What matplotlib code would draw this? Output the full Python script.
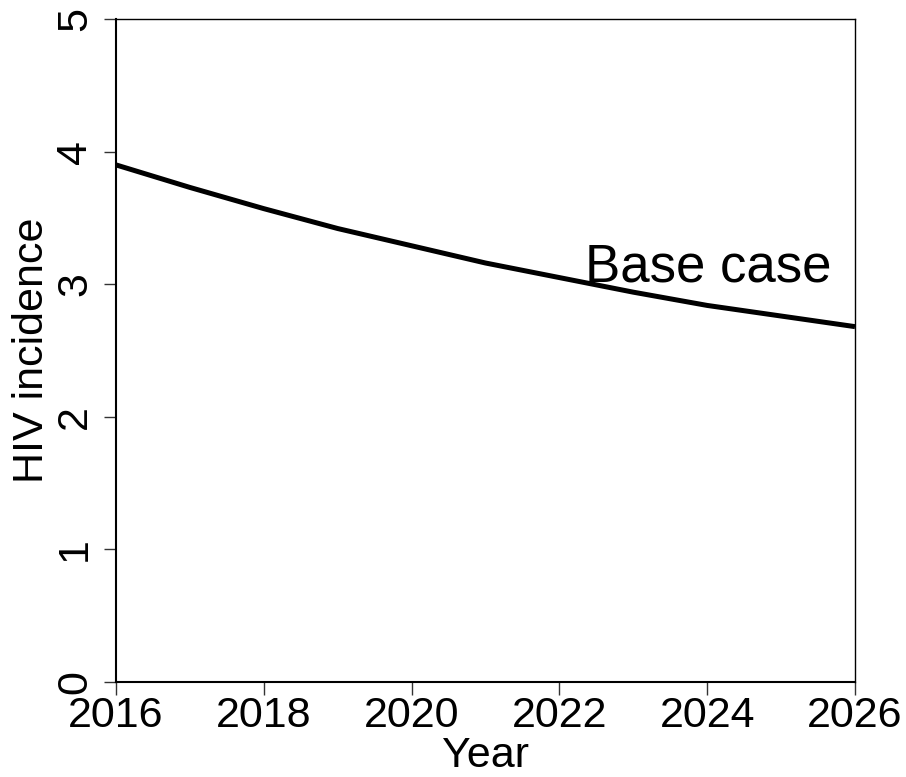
import numpy as np
import matplotlib
matplotlib.use('Agg')
import matplotlib.pyplot as plt

plt.rcParams.update({
    'font.family': ['Liberation Sans', 'DejaVu Sans'],
    'axes.linewidth': 1.2,
})

# Projected HIV incidence, base case scenario
years = [2016, 2017, 2018, 2019, 2020, 2021, 2022, 2023, 2024, 2025, 2026]
incidence = [3.90, 3.73, 3.57, 3.42, 3.29, 3.16, 3.05, 2.94, 2.84, 2.76, 2.68]
xticks = [2016, 2018, 2020, 2022, 2024, 2026]
yticks = [0, 1, 2, 3, 4, 5]

fig = plt.figure(figsize=(9.06, 7.77), dpi=100)
ax = fig.add_axes([0.128, 0.1223, 0.8157, 0.8532])

ax.plot(years, incidence, color='black', linewidth=3.6, solid_capstyle='butt')
ax.text(2022.35, 3.02, 'Base case', fontsize=38, ha='left', va='baseline')

ax.set_xlim(2016, 2026)
ax.set_ylim(0, 5)
ax.set_xticks(xticks)
ax.set_yticks(yticks)
ax.tick_params(axis='x', labelsize=31, length=9, width=1, pad=1, color='#333333')
ax.tick_params(axis='y', labelsize=31, length=9, width=1, pad=6, color='#333333')
for lbl in ax.get_yticklabels():
    lbl.set_rotation(90)
    lbl.set_va('center')

for side in ['left', 'bottom']:
    ax.spines[side].set_linewidth(1.5)
for side in ['top', 'right']:
    ax.spines[side].set_linewidth(1.0)

ax.set_xlabel('Year', fontsize=31, labelpad=0)
ax.set_ylabel('HIV incidence', fontsize=31, labelpad=2)

fig.savefig('out.png', dpi=100)
